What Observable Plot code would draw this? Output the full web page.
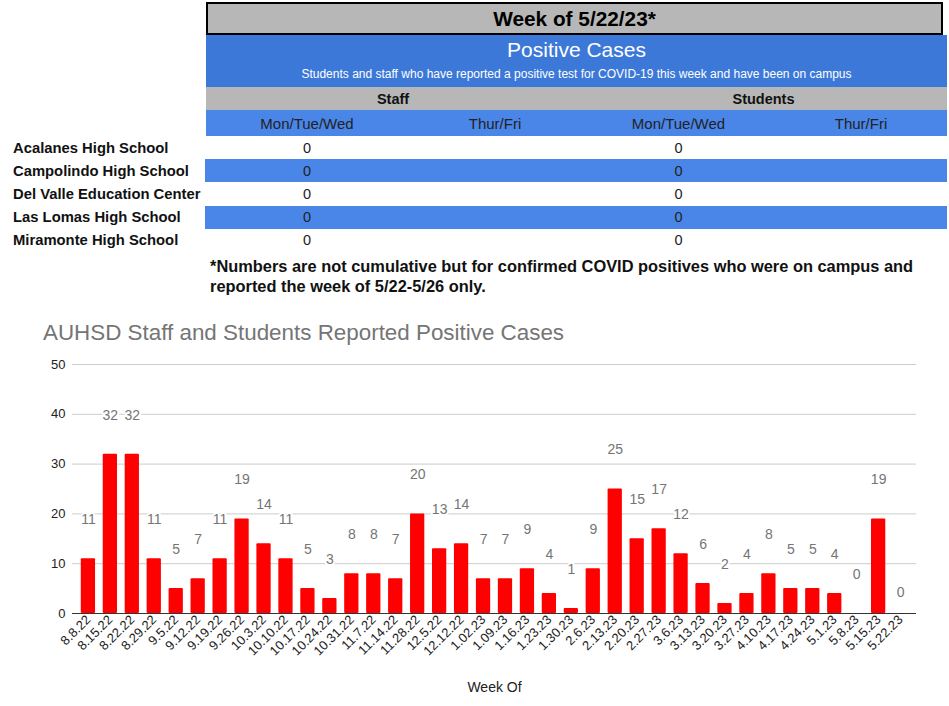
<!DOCTYPE html>
<html><head><meta charset="utf-8">
<script src="https://cdn.jsdelivr.net/npm/d3@7"></script>
<script src="https://cdn.jsdelivr.net/npm/@observablehq/plot@0.6"></script>
<style>
body{margin:0;background:#fff;font-family:"Liberation Sans",Arial,sans-serif;width:949px;height:706px;position:relative;overflow:hidden}
.a{position:absolute;box-sizing:border-box;display:flex;align-items:center;justify-content:center;white-space:nowrap}
#chart g[aria-label="x-axis tick label"], #chart g[aria-label="y-axis tick label"]{font-size:13px}
#chart g[aria-label="x-axis tick label"] text, #chart g[aria-label="y-axis tick label"] text{font-size:13px}
</style></head><body>
<div id="page"></div>
<div id="chart" style="position:absolute;left:0;top:350px"></div>
<script>
// ---- data ----
const headerTitle = "Week of 5/22/23*";
const panelTitle = "Positive Cases";
const panelSubtitle = "Students and staff who have reported a positive test for COVID-19 this week and have been on campus";
const groups = ["Staff", "Students"];
const dayCols = ["Mon/Tue/Wed", "Thur/Fri", "Mon/Tue/Wed", "Thur/Fri"];
const schools = ["Acalanes High School", "Campolindo High School", "Del Valle Education Center", "Las Lomas High School", "Miramonte High School"];
const staffMTW = ["0", "0", "0", "0", "0"];
const staffTF = ["", "", "", "", ""];
const studentsMTW = ["0", "0", "0", "0", "0"];
const studentsTF = ["", "", "", "", ""];
const footnote = ["*Numbers are not cumulative but for confirmed COVID positives who were on campus and", "reported the week of 5/22-5/26 only."];
const chartTitle = "AUHSD Staff and Students Reported Positive Cases";
const xLabel = "Week Of";
const weeks = ["8.8.22","8.15.22","8.22.22","8.29.22","9.5.22","9.12.22","9.19.22","9.26.22","10.3.22","10.10.22","10.17.22","10.24.22","10.31.22","11.7.22","11.14.22","11.28.22","12.5.22","12.12.22","1.02.23","1.09.23","1.16.23","1.23.23","1.30.23","2.6.23","2.13.23","2.20.23","2.27.23","3.6.23","3.13.23","3.20.23","3.27.23","4.10.23","4.17.23","4.24.23","5.1.23","5.8.23","5.15.23","5.22.23"];
const cases = [11,32,32,11,5,7,11,19,14,11,5,3,8,8,7,20,13,14,7,7,9,4,1,9,25,15,17,12,6,2,4,8,5,5,4,0,19,0];
const yTicks = [0,10,20,30,40,50];

// ---- header table (HTML) ----
const page = document.getElementById("page");
function box(left, top, width, height, text, style) {
  const d = document.createElement("div");
  d.className = "a";
  d.style.left = left + "px"; d.style.top = top + "px";
  d.style.width = width + "px"; d.style.height = height + "px";
  Object.assign(d.style, style || {});
  d.textContent = text;
  page.appendChild(d);
  return d;
}
const GRAY = "#b7b7b7", BLUE1 = "#3c78d8", BLUE2 = "#4a86e8";
box(206, 2, 737, 33, headerTitle, {background: GRAY, border: "2px solid #000", fontWeight: "bold", fontSize: "20.8px", color: "#000"});
box(206, 35, 741, 52, "", {background: BLUE1});
box(206, 37, 741, 26, panelTitle, {color: "#fff", fontSize: "21px"});
box(206, 65, 741, 17, panelSubtitle, {color: "#fff", fontSize: "12px"});
box(206, 87, 741, 23, "", {background: GRAY});
const groupCols = [[206, 374], [580, 367]];
groups.forEach((g, i) => box(groupCols[i][0], 87, groupCols[i][1], 23, g, {fontWeight: "bold", fontSize: "14.5px", color: "#111"}));
box(206, 110, 741, 26, "", {background: BLUE2});
const subCols = [[206, 202], [408, 174], [582, 193], [775, 172]];
dayCols.forEach((c, i) => box(subCols[i][0], 110, subCols[i][1], 26, c, {fontSize: "15px", color: "#222"}));
const rowTop = 136, rowH = 23.2;
schools.forEach((s, r) => {
  const top = rowTop + r * rowH;
  if (r % 2 === 1) box(205, top, 742, rowH, "", {background: BLUE2});
  box(13, top, 200, rowH, s, {justifyContent: "flex-start", fontWeight: "bold", fontSize: "14.8px", color: "#111"});
  [staffMTW[r], staffTF[r], studentsMTW[r], studentsTF[r]].forEach((v, i) =>
    box(subCols[i][0], top, subCols[i][1], rowH, v, {fontSize: "14.5px", color: "#222"}));
});
footnote.forEach((line, i) => box(210, 256 + i * 20, 735, 20, line, {justifyContent: "flex-start", fontWeight: "bold", fontSize: "16.4px", color: "#111"}));
box(43, 319, 800, 28, chartTitle, {justifyContent: "flex-start", fontSize: "22.4px", color: "#757575"});

// ---- chart ----
const data = weeks.map((w, i) => ({week: w, cases: cases[i]}));
const chart = Plot.plot({
  width: 949,
  height: 356,
  marginTop: 14,
  marginBottom: 93,
  marginLeft: 72,
  marginRight: 33,
  style: {fontFamily: "Liberation Sans, Arial, sans-serif", fontSize: "13px", color: "#222", background: "transparent", overflow: "visible"},
  x: {domain: weeks, paddingInner: 0.35, paddingOuter: 0.4},
  y: {domain: [0, 50]},
  marks: [
    Plot.gridY(yTicks, {stroke: "#cccccc", strokeOpacity: 1}),
    Plot.barY(data, {x: "week", y: "cases", fill: "#ff0000", rx: 1}),
    Plot.ruleY([0], {stroke: "#333"}),
    Plot.axisY(yTicks, {tickSize: 0, tickPadding: 7, label: null, fontSize: 13}),
    Plot.axisX({tickSize: 0, tickPadding: 4, tickRotate: -45, label: null, fontSize: 13}),
    Plot.text(data.slice(0, -1), {x: "week", y: "cases", text: d => String(d.cases), dy: -39, fill: "#757575", stroke: "white", strokeWidth: 4, fontSize: 14}),
    Plot.text(data.slice(-1), {x: "week", y: "cases", text: d => String(d.cases), dy: -21, fill: "#757575", stroke: "white", strokeWidth: 4, fontSize: 14}),
    Plot.text([xLabel], {text: d => d, frameAnchor: "bottom", dy: 78, fontSize: 14, fill: "#222"})
  ]
});
document.getElementById("chart").appendChild(chart);
</script>
</body></html>
